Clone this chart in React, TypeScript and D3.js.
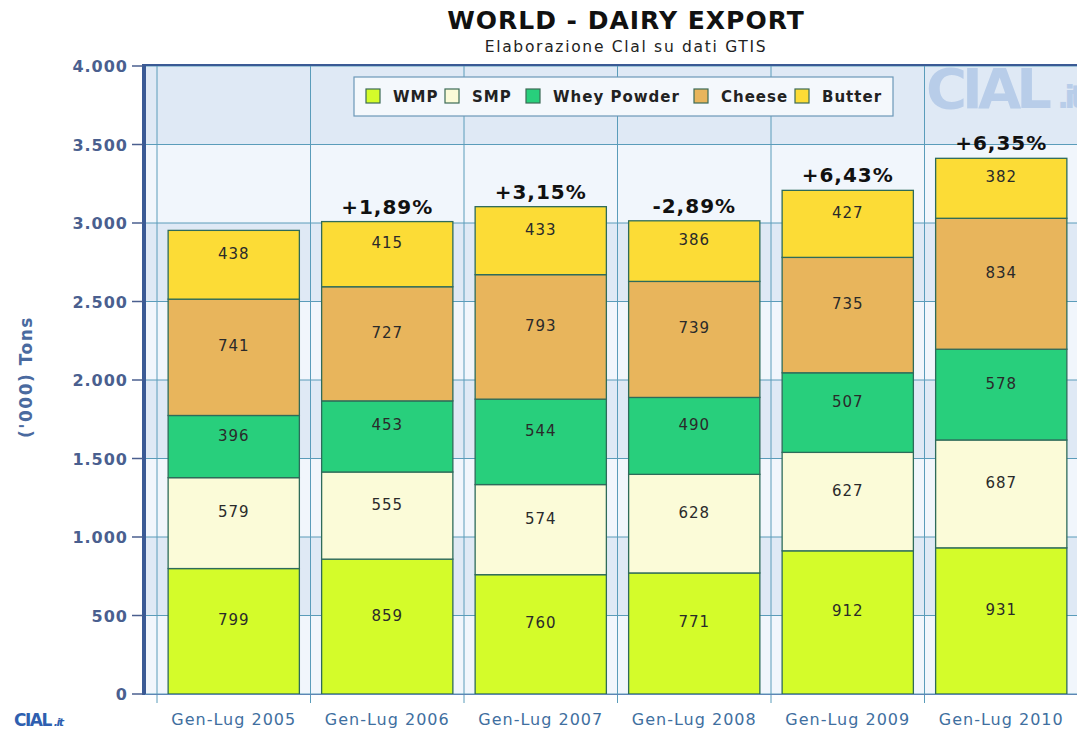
import React from "react";
import * as d3 from "d3";

const categories = ["Gen-Lug 2005", "Gen-Lug 2006", "Gen-Lug 2007", "Gen-Lug 2008", "Gen-Lug 2009", "Gen-Lug 2010"];
const seriesNames = ["WMP", "SMP", "Whey Powder", "Cheese", "Butter"];
const wmp = [799, 859, 760, 771, 912, 931];
const smp = [579, 555, 574, 628, 627, 687];
const whey = [396, 453, 544, 490, 507, 578];
const cheese = [741, 727, 793, 739, 735, 834];
const butter = [438, 415, 433, 386, 427, 382];
const changes = ["", "+1,89%", "+3,15%", "-2,89%", "+6,43%", "+6,35%"];
const yTicks = [0, 500, 1000, 1500, 2000, 2500, 3000, 3500, 4000];
const yTickLabels = ["0", "500", "1.000", "1.500", "2.000", "2.500", "3.000", "3.500", "4.000"];
const colors = ["#d4fc2a", "#fbfbd8", "#28cf7c", "#e8b55c", "#fcdc36"];

const FONT = "'DejaVu Sans', Verdana, sans-serif";

export default function App() {
  const W = 1077, H = 730;
  const plotL = 145, plotT = 66, plotB = 694, plotR = 1078;
  const x = d3.scaleBand<string>().domain(categories).range([157, 1078]).paddingInner(0.145).paddingOuter(0.0725);
  const xb = d3.scaleBand<string>().domain(categories).range([157, 1078]);
  const y = d3.scaleLinear().domain([0, 4000]).range([plotB, plotT]);

  const rows = categories.map((c, i) => ({ cat: c, WMP: wmp[i], SMP: smp[i], "Whey Powder": whey[i], Cheese: cheese[i], Butter: butter[i] }));
  const stack = d3.stack<any>().keys(seriesNames)(rows);

  const bands = d3.range(0, 8).map((i) => ({ y0: i * 500, y1: (i + 1) * 500, dark: i % 2 === 1 }));

  const legendItems = [
    { name: "WMP", x: 366 },
    { name: "SMP", x: 445 },
    { name: "Whey Powder", x: 526 },
    { name: "Cheese", x: 694 },
    { name: "Butter", x: 795 },
  ];

  return (
    <svg width={W} height={H} style={{ position: "absolute", left: 0, top: 0, background: "#fff" }} fontFamily={FONT}>
      <text x={626} y={29} textAnchor="middle" fontSize={25} fontWeight="bold" fill="#111" letterSpacing={1}>WORLD - DAIRY EXPORT</text>
      <text x={626} y={52} textAnchor="middle" fontSize={15.5} fill="#222" letterSpacing={1.7}>Elaborazione Clal su dati GTIS</text>

      {/* plot background bands */}
      {bands.map((b, i) => (
        <rect key={i} x={plotL} y={y(b.y1)} width={plotR - plotL} height={y(b.y0) - y(b.y1)} fill={b.dark ? "#dfe9f5" : "#f1f6fc"} />
      ))}
      {/* watermark */}
      <text x={926} y={108} fontSize={56} fontWeight="bold" fill="#b8cde9" letterSpacing={-5}>CIAL<tspan fontSize={32} dx={10}>.it</tspan></text>
      {/* horizontal gridlines */}
      {yTicks.map((t) => (
        <line key={t} x1={plotL} x2={plotR} y1={y(t)} y2={y(t)} stroke="#5a9cba" strokeWidth={1} />
      ))}
      {/* vertical gridlines at category boundaries */}
      {categories.map((c) => (
        <line key={c} x1={xb(c)!} x2={xb(c)!} y1={plotT} y2={plotB + 9} stroke="#5a9cba" strokeWidth={1} />
      ))}

      {/* legend */}
      <rect x={354} y={77} width={539} height={39} fill="#f4f8fc" stroke="#6c98b8" strokeWidth={1.2} />
      {legendItems.map((l, i) => (
        <g key={l.name}>
          <rect x={l.x} y={89} width={14} height={14} fill={colors[i]} stroke="#3b6b55" strokeWidth={1.2} />
          <text x={l.x + 27} y={102} fontSize={15} fontWeight="bold" fill="#222" letterSpacing={1}>{l.name}</text>
        </g>
      ))}

      {/* bars */}
      {stack.map((s, si) => (
        <g key={s.key}>
          {s.map((d, i) => (
            <g key={i}>
              <rect x={x(categories[i])!} y={y(d[1])} width={x.bandwidth()} height={y(d[0]) - y(d[1])} fill={colors[si]} stroke="#2e6b5a" strokeWidth={1.3} />
              <text x={x(categories[i])! + x.bandwidth() / 2} y={(y(d[1]) + y(d[0])) / 2 - 6} textAnchor="middle" fontSize={15} fill="#2a2a2a" letterSpacing={1}>{d[1] - d[0]}</text>
            </g>
          ))}
        </g>
      ))}

      {/* percentage labels */}
      {changes.map((p, i) => {
        const top = stack[stack.length - 1][i][1];
        return p ? (
          <text key={i} x={x(categories[i])! + x.bandwidth() / 2} y={y(top) - 8} textAnchor="middle" fontSize={20} fontWeight="bold" fill="#111" letterSpacing={1}>{p}</text>
        ) : null;
      })}

      {/* axes frame */}
      <line x1={plotL} x2={plotR} y1={plotT - 1} y2={plotT - 1} stroke="#3a5a95" strokeWidth={2} />
      <line x1={plotL - 1} x2={plotL - 1} y1={plotT - 2} y2={plotB + 1} stroke="#3a5a95" strokeWidth={4} />
      <line x1={plotL} x2={plotR} y1={plotB + 0.5} y2={plotB + 0.5} stroke="#5d86b5" strokeWidth={1} />

      {/* y ticks */}
      {yTicks.map((t, i) => (
        <g key={t}>
          <line x1={132} x2={143} y1={y(t)} y2={y(t)} stroke="#4a5f8f" strokeWidth={1.5} />
          <text x={128} y={y(t) + 6} textAnchor="end" fontSize={16} fontWeight="bold" fill="#4a5f8f" letterSpacing={1}>{yTickLabels[i]}</text>
        </g>
      ))}
      <text transform={`translate(32,377) rotate(-90)`} textAnchor="middle" fontSize={17} fontWeight="bold" fill="#4a6a9f" letterSpacing={1.5}>('000) Tons</text>

      {/* x labels */}
      {categories.map((c) => (
        <text key={c} x={x(c)! + x.bandwidth() / 2} y={725} textAnchor="middle" fontSize={16} fill="#3f6f9f" letterSpacing={1}>{c}</text>
      ))}

      {/* bottom-left logo */}
      <text x={14} y={726} fontSize={17} fontWeight="bold" fill="#2f5fb0" letterSpacing={-1.5}>CIAL<tspan fontSize={11} dx={3} fontStyle="italic">.it</tspan></text>
    </svg>
  );
}
